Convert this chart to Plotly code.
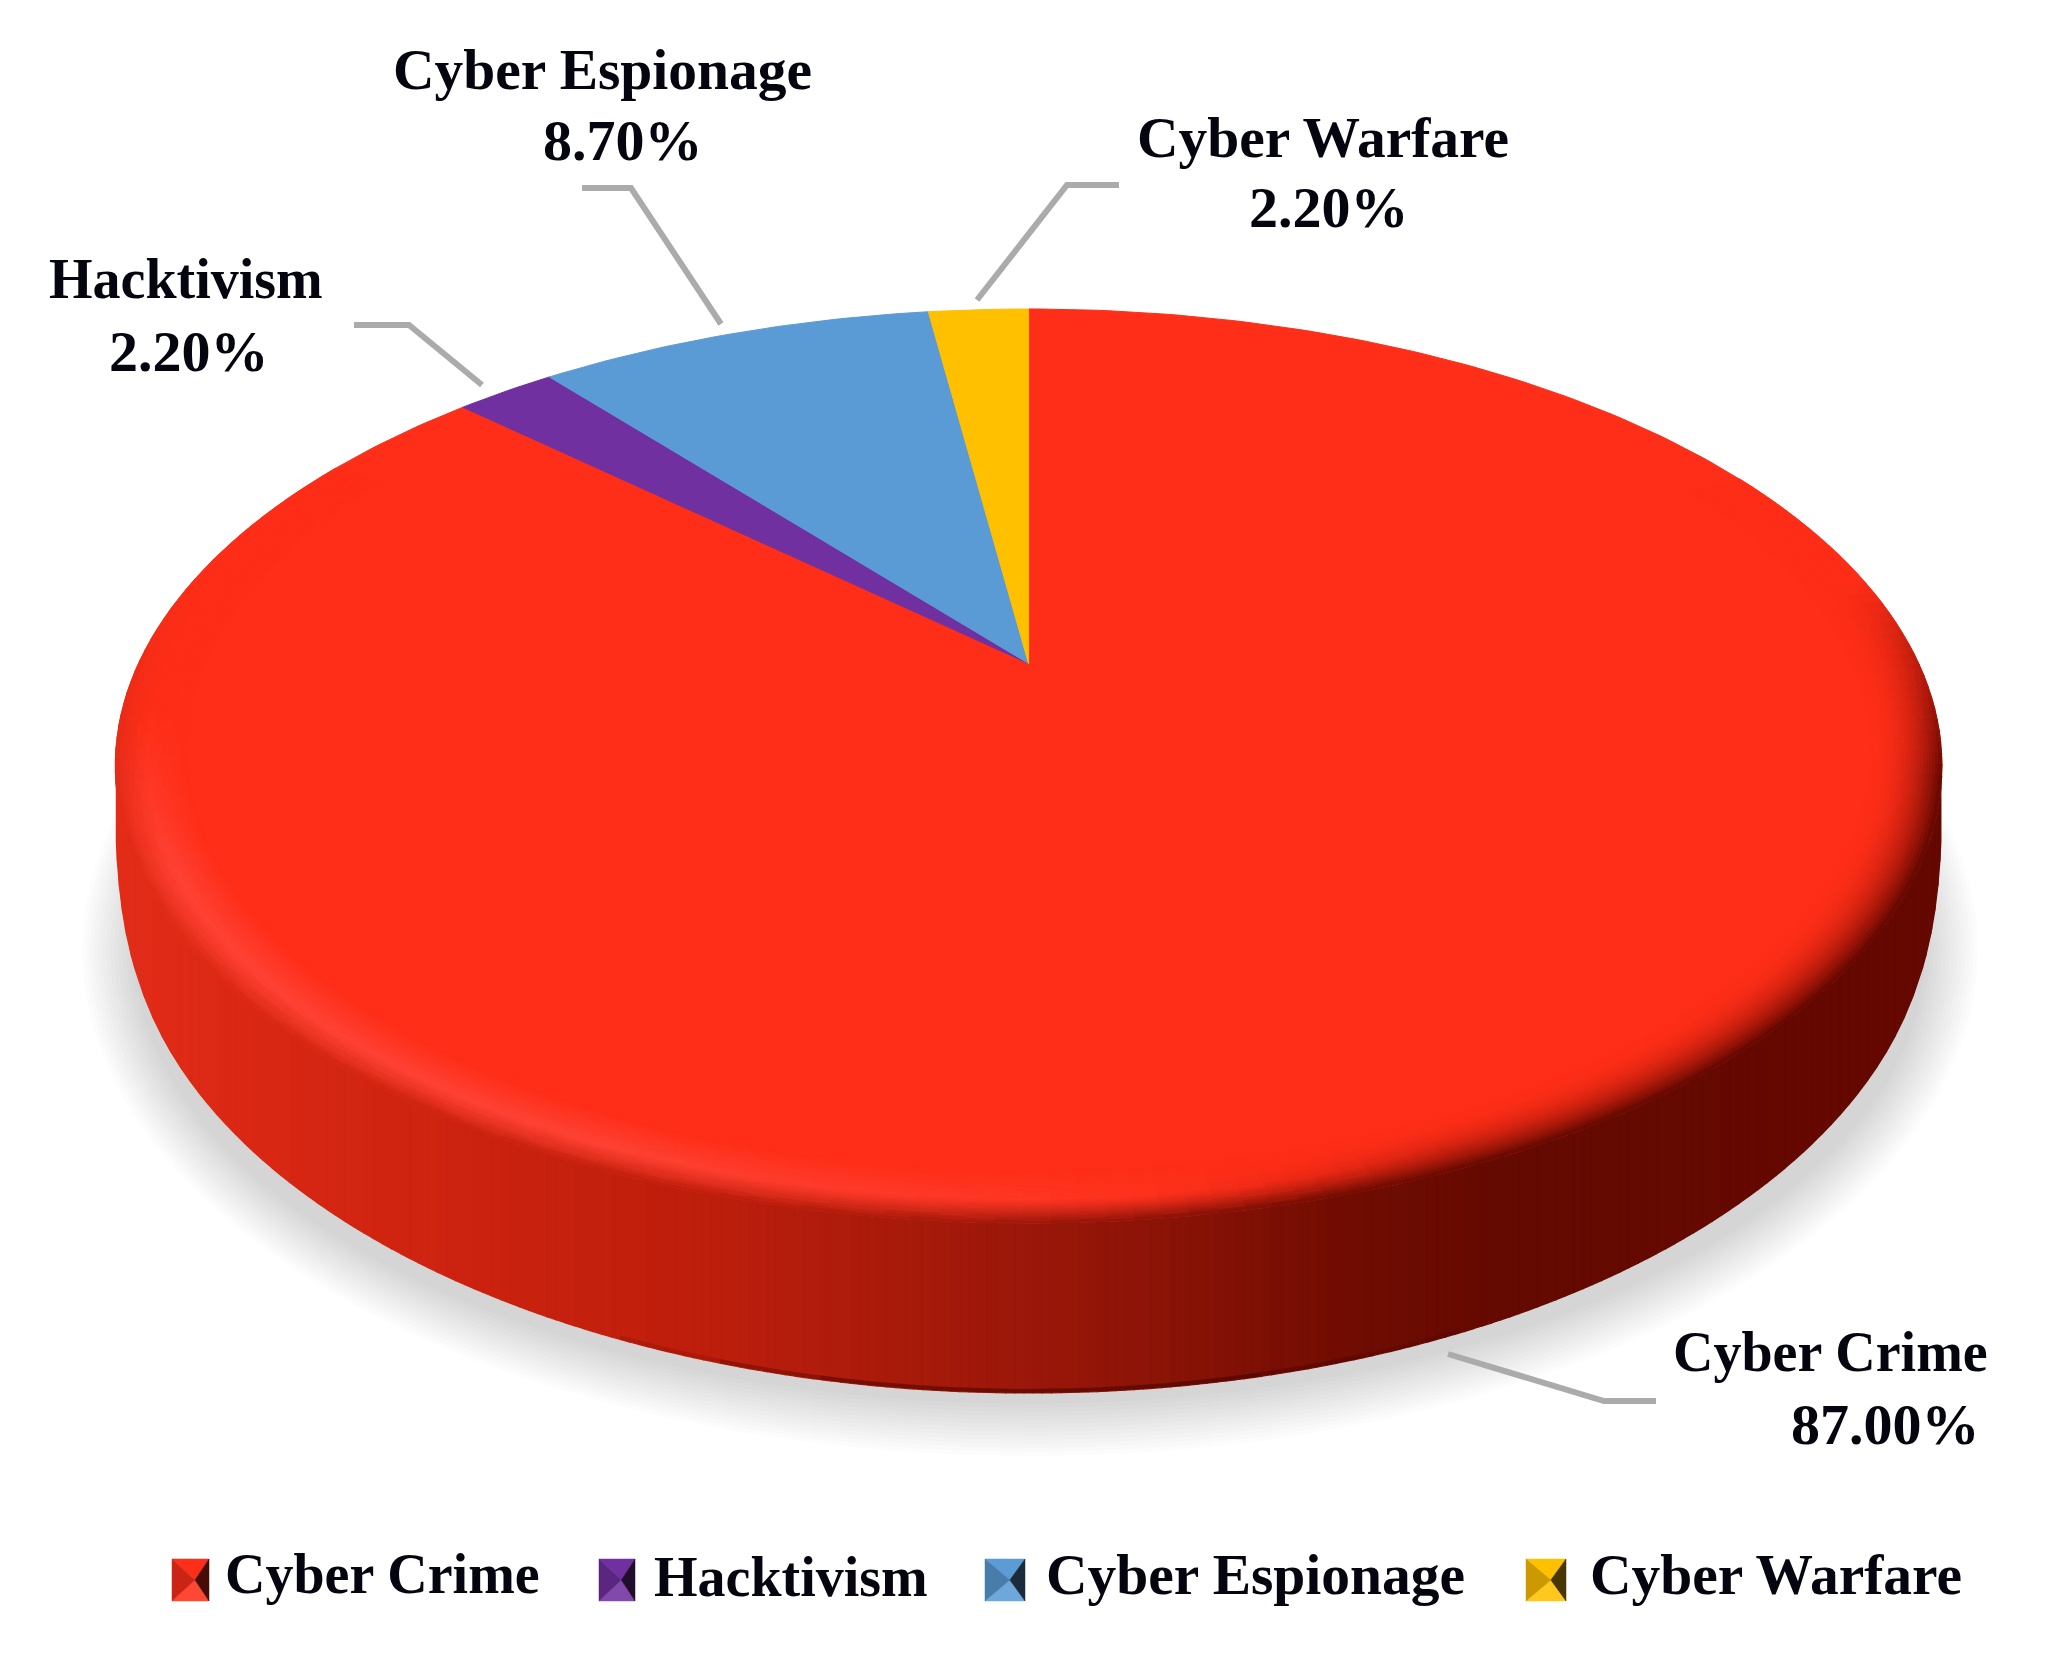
"""3D pie of cyber attack motivations, drawn as projected polygons (go.Pie cannot tilt)."""

import numpy as np
import plotly.graph_objects as go

categories = ["Cyber Crime", "Hacktivism", "Cyber Espionage", "Cyber Warfare"]
values = [87.00, 2.20, 8.70, 2.20]
colors = ["#FE2E18", "#7030A0", "#5B9BD5", "#FFC000"]

W, H = 2052, 1664
CX, CY = 1028.6, 663.5  # where the pie apex lands
A, B, K = 890.0, 434.0, 0.2242  # perspective projection of the top face
BOT_CY, BOT_RX, BOT_RY = 899.0, 902.0, 494.0  # lower rim of the disc
TOP_RX = A / np.sqrt(1 - K ** 2)
TOP_MID = CY + B * K / (1 - K ** 2)
CORNER_DX = 860.0  # beyond this the lower rim rounds up into the top face

SIDE_X = [114, 400, 700, 1000, 1200, 1350, 1500, 1945]
SIDE_R = [226, 207, 190, 158, 134, 112, 100, 100]
SIDE_G = [44, 36, 30, 24, 18, 12, 10, 8]
SIDE_B = [24, 16, 12, 10, 6, 2, 0, 0]

FONT = "Liberation Serif"
TEXT_COLOR = "#05050F"
LEADER = "#ABABAB"

label_pos = {
    "Cyber Crime": ((1830, 1352), (1885, 1424)),
    "Hacktivism": ((186, 279), (189, 351)),
    "Cyber Espionage": ((602, 69), (623, 140)),
    "Cyber Warfare": ((1323, 137), (1329, 207)),
}
name_size = {"Cyber Crime": 56, "Hacktivism": 56, "Cyber Espionage": 57.5, "Cyber Warfare": 57.5}
leaders = {
    "Cyber Crime": [(1448, 1354), (1604, 1401), (1656, 1401)],
    "Hacktivism": [(354, 325), (409, 325), (482, 385)],
    "Cyber Espionage": [(582, 188), (631, 188), (721, 324)],
    "Cyber Warfare": [(977, 300), (1067, 185), (1119, 185)],
}
swatches = [(172, 209), (599, 635), (985, 1025), (1526, 1566)]
legend_text_x = [223, 652, 1044, 1588]
legend_text_y = [1574, 1577, 1574, 1574]


def project(theta, r=1.0):
    u, v = r * np.sin(theta), r * np.cos(theta)
    den = 1 + K * v
    return CX + A * u / den, CY - B * v / den


def rgb(hex_color):
    return np.array([int(hex_color[i:i + 2], 16) for i in (1, 3, 5)], dtype=float)


def mix(c1, c2, t):
    return c1 + (c2 - c1) * t


def side_color(x):
    return np.array([np.interp(x, SIDE_X, SIDE_R), np.interp(x, SIDE_X, SIDE_G),
                     np.interp(x, SIDE_X, SIDE_B)])


def css(c):
    c = np.clip(np.round(np.asarray(c) / 2) * 2, 0, 255).astype(int)
    return f"rgb({c[0]},{c[1]},{c[2]})"


def add_polys(fig, polys):
    # polygons of one colour go in one trace, otherwise the bevel makes hundreds of traces
    for color, items in polys.items():
        xs, ys = [], []
        for px, py in items:
            xs += list(px) + [None]
            ys += list(py) + [None]
        fig.add_trace(go.Scatter(x=xs, y=ys, mode="lines", fill="toself", fillcolor=color,
                                 line=dict(color=color, width=1.2), hoverinfo="skip",
                                 showlegend=False))


fig = go.Figure()

# soft shadow under the disc
ang = np.linspace(0, 2 * np.pi, 240)
for i in range(14):
    grow = 52 - i * 4
    fig.add_trace(go.Scatter(x=1030 + (896 + grow) * np.cos(ang),
                             y=950 + (454 + grow) * np.sin(ang),
                             mode="lines", fill="toself", fillcolor="rgba(0,0,0,0.0105)",
                             line=dict(width=0), hoverinfo="skip", showlegend=False))

# side wall, vertical strips shaded left to right
edges = np.linspace(CX - TOP_RX + 1, CX + TOP_RX - 1, 200)
edges = np.sort(np.concatenate([edges, CX - TOP_RX + np.array([2, 4, 7, 11, 16]),
                                CX + TOP_RX - np.array([2, 4, 7, 11, 16])]))


def lower_y(x):
    dx = np.abs(x - CX)
    if dx < CORNER_DX:
        return BOT_CY + BOT_RY * np.sqrt(1 - (dx / BOT_RX) ** 2)
    corner_y = BOT_CY + BOT_RY * np.sqrt(1 - (CORNER_DX / BOT_RX) ** 2)
    s = min((dx - CORNER_DX) / (TOP_RX - CORNER_DX), 1)
    return TOP_MID + (corner_y - TOP_MID) * (1 - s) ** 0.33


strips = {}
for x0, x1 in zip(edges[:-1], edges[1:]):
    strips.setdefault(css(side_color((x0 + x1) / 2)), []).append(
        ([x0, x1, x1, x0, x0], [TOP_MID, TOP_MID, lower_y(x1), lower_y(x0), TOP_MID]))
add_polys(fig, strips)

# darker lip along the bottom of the wall, fading out to both sides
for half, alpha in [(420, 0.14), (320, 0.18), (220, 0.2)]:
    lip_x = np.linspace(1040 - half, 1040 + half, 70)
    fig.add_trace(go.Scatter(x=lip_x, y=[lower_y(x) - 2 for x in lip_x], mode="lines",
                             line=dict(color=f"rgba(50,0,0,{alpha})", width=4), hoverinfo="skip",
                             showlegend=False))

# top face, one polygon per category
fractions = np.array(values) / sum(values)
starts = np.concatenate([[0], np.cumsum(fractions)[:-1]]) * 2 * np.pi
for name, frac, start, color in zip(categories, fractions, starts, colors):
    theta = np.linspace(start, start + frac * 2 * np.pi, max(int(frac * 400), 12))
    px, py = project(theta)
    fig.add_trace(go.Scatter(x=[CX, *px, CX], y=[CY, *py, CY], mode="lines", fill="toself",
                             fillcolor=color, line=dict(color=color, width=1), name=name,
                             hoverinfo="name", showlegend=False))

# bevel where the top face rolls into the wall
face = rgb(colors[0])
hilite = rgb("#FF4234")
radii = np.linspace(0.925, 1.0, 25)
thetas = np.radians(np.linspace(62, 300, 170))
bevel = {}
for r0, r1 in zip(radii[:-1], radii[1:]):
    t = ((r0 + r1) / 2 - radii[0]) / (radii[-1] - radii[0])
    for a0, a1 in zip(thetas[:-1], thetas[1:]):
        am = (a0 + a1) / 2
        xm, _ = project(am, r1)
        strength = np.clip((0.2 - np.cos(am)) / 0.45, 0, 1)
        hl = np.clip((1300 - xm) / 700, 0, 1) * np.clip((-np.cos(am) - 0.1) / 0.35, 0, 1)
        top = mix(face, hilite, hl)
        wall = side_color(xm)
        if t < 0.55:
            lit = mix(face, top, t / 0.55)
        else:
            lit = mix(top, wall, ((t - 0.55) / 0.45) ** 1.3)
        dark = mix(face, wall, t ** 2.2)  # right side blurs straight into the dark wall
        c = mix(lit, dark, np.clip((xm - 1150) / 300, 0, 1))
        c = mix(face, c, strength)
        x_a, y_a = project(a0, r0)
        x_b, y_b = project(a1, r0)
        x_c, y_c = project(a1, r1)
        x_d, y_d = project(a0, r1)
        bevel.setdefault(css(c), []).append(([x_a, x_b, x_c, x_d, x_a], [y_a, y_b, y_c, y_d, y_a]))
add_polys(fig, bevel)

# leader lines
for name in categories:
    pts = leaders[name]
    fig.add_trace(go.Scatter(x=[p[0] for p in pts], y=[p[1] for p in pts], mode="lines",
                             line=dict(color=LEADER, width=6), hoverinfo="skip", showlegend=False))

# legend swatches: four small triangles give the pyramid look
black = np.zeros(3)
white = np.full(3, 255.0)
SW_TOP, SW_BOT = 1559, 1601
for (x0, x1), color in zip(swatches, colors):
    base = rgb(color)
    xm, ym = x0 + 0.62 * (x1 - x0), (SW_TOP + SW_BOT) / 2
    tris = [
        ([x0, x1, xm, x0], [SW_TOP, SW_TOP, ym, SW_TOP], base),
        ([x0, x1, xm, x0], [SW_BOT, SW_BOT, ym, SW_BOT], mix(base, white, 0.12)),
        ([x0, xm, x0, x0], [SW_TOP, ym, SW_BOT, SW_TOP], mix(base, black, 0.2)),
        ([x1, xm, x1, x1], [SW_TOP, ym, SW_BOT, SW_TOP], mix(base, black, 0.72)),
    ]
    for tx, ty, c in tris:
        fig.add_trace(go.Scatter(x=tx, y=ty, mode="lines", fill="toself", fillcolor=css(c),
                                 line=dict(color=css(c), width=0.5), hoverinfo="skip",
                                 showlegend=False))


def font(size):
    return dict(family=FONT, size=size, color=TEXT_COLOR)


for name, value in zip(categories, values):
    (nx, ny), (vx, vy) = label_pos[name]
    fig.add_annotation(x=nx, y=ny, text=f"<b>{name}</b>", showarrow=False, font=font(name_size[name]),
                       xanchor="center", yanchor="middle")
    fig.add_annotation(x=vx, y=vy, text=f"<b>{value:.2f}%</b>", showarrow=False, font=font(58),
                       xanchor="center", yanchor="middle")
for name, x, y in zip(categories, legend_text_x, legend_text_y):
    fig.add_annotation(x=x, y=y, text=f"<b>{name}</b>", showarrow=False, font=font(name_size[name]),
                       xanchor="left", yanchor="middle")

fig.update_layout(
    width=W, height=H, margin=dict(l=0, r=0, t=0, b=0),
    paper_bgcolor="white", plot_bgcolor="white", showlegend=False,
    xaxis=dict(range=[0, W], visible=False, fixedrange=True),
    yaxis=dict(range=[H, 0], visible=False, fixedrange=True),
)

fig.write_html("out.html", config=dict(displayModeBar=False),
               post_script="document.body.style.margin='0';")
